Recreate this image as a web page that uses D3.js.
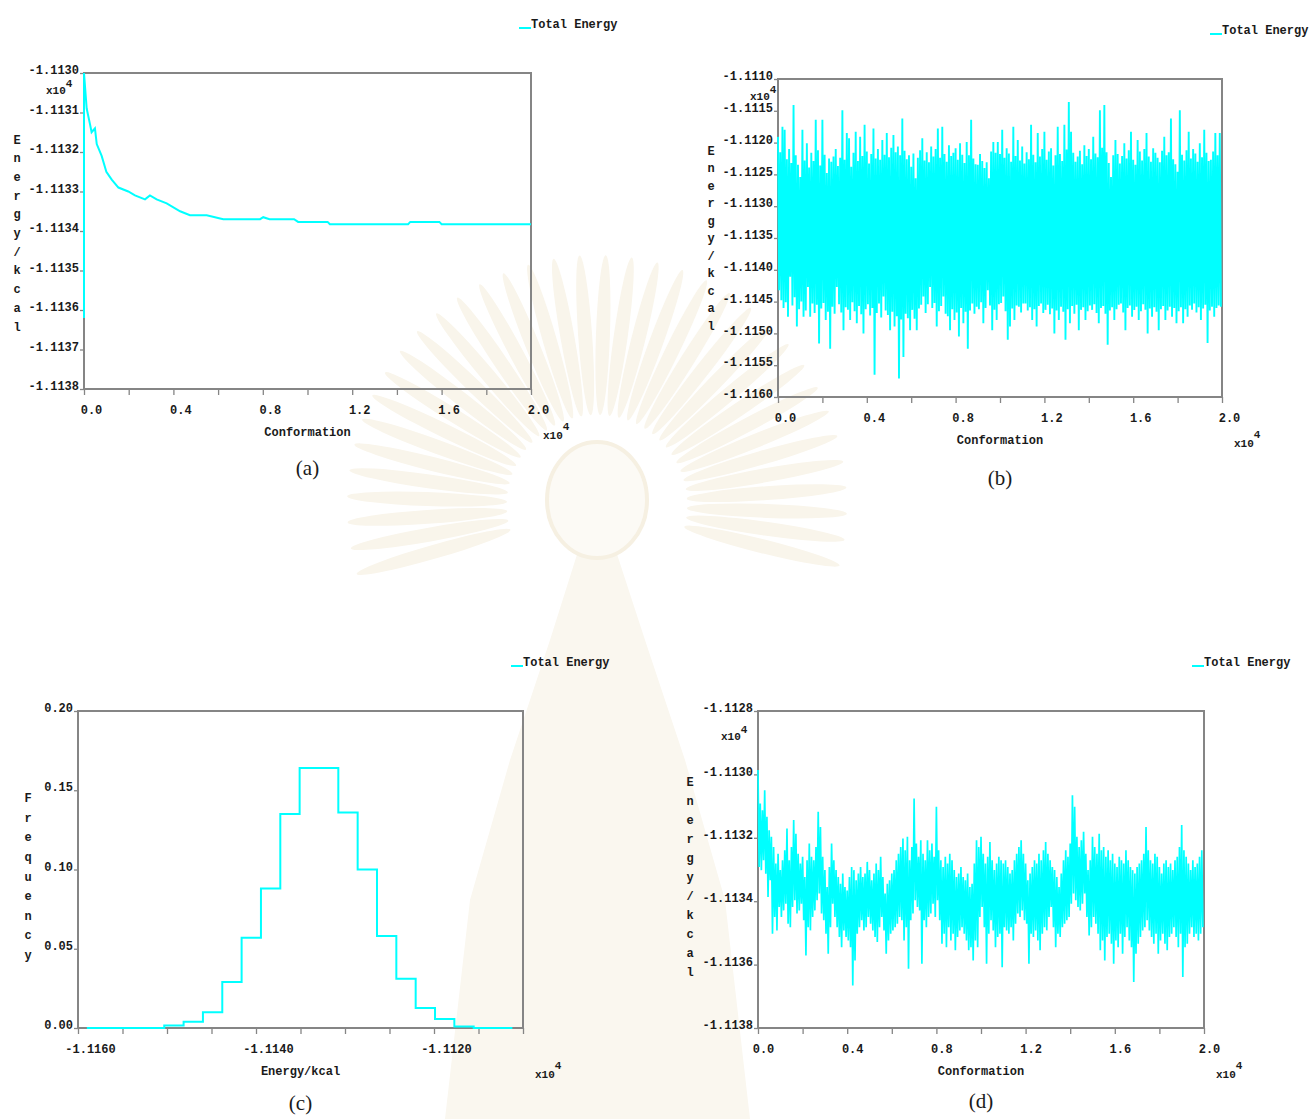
<!DOCTYPE html>
<html>
<head>
<meta charset="utf-8">
<script src="https://cdn.jsdelivr.net/npm/d3@7"></script>
<style>
  body { margin: 0; background: #fff; }
  text { font-family: "Liberation Mono", "DejaVu Sans Mono", monospace; font-weight: bold; font-size: 12px; fill: #1a1a1a; }
  text.cap { font-family: "Liberation Serif", "DejaVu Serif", serif; font-weight: normal; font-size: 21px; }
  text.mult { font-size: 11px; }
  text.sup { font-size: 8px; }
</style>
</head>
<body>
<svg id="fig" width="1313" height="1119"></svg>
<script>
// ---- data (energies in kcal, conformations as counts) ----

// (a) running average of total energy
const runConf = [0, 0, 120, 270, 340, 490, 570, 790, 1000, 1240, 1540, 1980, 2280, 2730, 2950, 3250,
  3700, 4300, 4740, 5490, 6230, 7880, 8020, 8300, 9400, 9580, 10900, 11000, 14500, 14600, 15900, 16000, 20000];
const runEnergy = [-11136.2, -11130.0, -11130.9, -11131.3, -11131.5, -11131.4, -11131.8, -11132.1, -11132.5,
  -11132.7, -11132.9, -11133.0, -11133.1, -11133.2, -11133.1, -11133.2, -11133.3, -11133.5, -11133.6, -11133.6,
  -11133.7, -11133.7, -11133.65, -11133.7, -11133.7, -11133.77, -11133.77, -11133.83, -11133.83, -11133.77,
  -11133.77, -11133.83, -11133.83];

// (b) and (d): highest and lowest energy in each block of 100 conformations
const blockSize = 100;

const bHigh = [
  -11119.1,-11121.5,-11117.5,-11118.0,-11122.6,-11121.0,-11123.2,-11114.1,-11122.0,-11123.5,
  -11125.4,-11118.0,-11122.8,-11120.1,-11123.9,-11121.6,-11122.9,-11116.4,-11121.2,-11123.6,
  -11116.4,-11121.9,-11124.8,-11122.5,-11123.0,-11122.2,-11121.0,-11123.7,-11122.4,-11114.9,
  -11122.7,-11118.5,-11119.3,-11123.8,-11121.6,-11118.3,-11122.9,-11119.1,-11122.1,-11117.2,
  -11121.4,-11123.3,-11121.8,-11117.8,-11122.5,-11121.0,-11122.7,-11119.6,-11121.9,-11118.5,
  -11122.3,-11120.8,-11118.8,-11121.5,-11120.6,-11122.0,-11116.2,-11121.3,-11122.6,-11122.0,
  -11123.8,-11121.7,-11125.6,-11122.4,-11121.2,-11119.3,-11122.8,-11121.5,-11123.1,-11120.6,
  -11122.2,-11121.0,-11117.8,-11122.4,-11117.5,-11121.8,-11123.0,-11120.4,-11122.1,-11121.6,
  -11120.9,-11122.7,-11120.1,-11121.9,-11123.2,-11119.9,-11122.0,-11116.4,-11122.5,-11123.4,
  -11123.5,-11121.8,-11122.9,-11124.0,-11123.1,-11125.6,-11121.4,-11119.9,-11121.6,-11119.9,
  -11121.8,-11118.0,-11122.4,-11120.9,-11121.7,-11123.0,-11117.5,-11122.1,-11119.6,-11122.8,
  -11120.6,-11123.3,-11121.5,-11122.6,-11117.2,-11121.9,-11123.1,-11118.5,-11122.2,-11121.0,
  -11118.3,-11122.7,-11121.4,-11120.9,-11123.6,-11122.0,-11117.5,-11121.8,-11122.9,-11117.2,
  -11121.1,-11113.6,-11118.3,-11121.6,-11123.0,-11122.2,-11121.3,-11123.4,-11120.4,-11122.1,
  -11121.0,-11122.6,-11119.1,-11121.7,-11122.3,-11114.9,-11120.8,-11114.1,-11121.5,-11123.2,
  -11125.4,-11122.0,-11119.6,-11121.8,-11123.3,-11122.1,-11120.1,-11122.5,-11121.2,-11118.3,
  -11122.7,-11123.5,-11119.6,-11121.4,-11122.8,-11121.0,-11118.5,-11122.2,-11123.0,-11120.9,
  -11121.6,-11122.4,-11123.1,-11121.3,-11119.1,-11122.0,-11121.5,-11116.2,-11122.6,-11123.4,
  -11124.6,-11114.9,-11121.9,-11122.8,-11121.2,-11118.3,-11122.5,-11121.0,-11121.7,-11123.0,
  -11120.1,-11122.3,-11118.0,-11121.6,-11122.9,-11122.7,-11121.4,-11118.5,-11122.0,-11118.5
];
const bLow = [
  -11143.2,-11144.8,-11146.0,-11145.1,-11147.4,-11141.1,-11145.6,-11144.3,-11148.9,-11146.2,
  -11145.0,-11147.4,-11146.4,-11142.7,-11147.4,-11145.3,-11146.8,-11145.5,-11151.6,-11146.1,
  -11145.2,-11147.9,-11146.6,-11152.4,-11145.8,-11146.9,-11142.7,-11145.4,-11146.7,-11149.5,
  -11145.9,-11146.3,-11147.9,-11145.1,-11146.5,-11148.4,-11145.7,-11147.0,-11150.0,-11146.2,
  -11145.4,-11147.2,-11146.0,-11156.5,-11146.8,-11145.3,-11147.5,-11144.2,-11146.4,-11147.1,
  -11149.5,-11146.6,-11148.9,-11147.3,-11157.1,-11147.8,-11153.7,-11146.9,-11147.6,-11149.5,
  -11146.3,-11147.7,-11149.5,-11146.1,-11145.5,-11144.2,-11146.8,-11145.4,-11142.7,-11146.0,
  -11145.2,-11148.9,-11146.5,-11145.7,-11144.2,-11146.9,-11147.3,-11149.5,-11146.2,-11147.9,
  -11146.7,-11150.5,-11146.0,-11148.4,-11146.6,-11152.4,-11146.4,-11145.3,-11146.9,-11145.8,
  -11146.2,-11145.1,-11148.4,-11146.0,-11143.2,-11145.6,-11149.5,-11146.3,-11147.9,-11145.4,
  -11145.2,-11144.2,-11146.5,-11151.0,-11148.9,-11146.1,-11147.9,-11145.6,-11145.8,-11146.7,
  -11145.3,-11145.3,-11146.4,-11145.9,-11147.9,-11146.2,-11148.9,-11145.7,-11145.3,-11146.8,
  -11146.3,-11145.5,-11147.0,-11146.1,-11150.0,-11146.4,-11147.9,-11145.8,-11146.6,-11151.0,
  -11146.2,-11148.4,-11145.7,-11146.9,-11145.5,-11149.5,-11146.3,-11145.9,-11147.9,-11146.5,
  -11145.6,-11146.3,-11145.4,-11146.8,-11148.4,-11146.0,-11145.7,-11146.9,-11151.8,-11146.4,
  -11145.9,-11147.9,-11146.2,-11145.5,-11145.3,-11146.7,-11149.5,-11146.0,-11145.6,-11147.4,
  -11146.3,-11145.8,-11147.9,-11146.5,-11145.4,-11146.3,-11150.0,-11146.1,-11147.4,-11145.9,
  -11146.6,-11149.5,-11146.2,-11145.7,-11147.9,-11146.4,-11145.8,-11147.4,-11146.0,-11148.4,
  -11146.5,-11145.9,-11148.4,-11146.2,-11147.4,-11145.6,-11146.3,-11145.3,-11146.7,-11145.9,
  -11147.9,-11146.1,-11145.5,-11151.5,-11146.4,-11145.8,-11147.4,-11146.0,-11145.6,-11145.8
];

const dHigh = [
  -11129.86,-11130.92,-11131.13,-11130.50,-11131.34,-11131.76,-11131.97,-11132.29,-11132.81,-11132.50,
  -11133.02,-11132.71,-11132.39,-11131.71,-11132.71,-11132.29,-11131.44,-11131.87,-11132.50,-11132.81,
  -11132.60,-11133.24,-11132.71,-11132.18,-11132.60,-11132.71,-11132.29,-11131.18,-11131.66,-11132.60,
  -11133.02,-11133.55,-11132.92,-11132.18,-11132.71,-11133.02,-11133.24,-11133.45,-11133.13,-11133.55,
  -11133.66,-11133.24,-11132.92,-11133.02,-11133.34,-11133.13,-11132.92,-11133.24,-11133.13,-11132.76,
  -11133.02,-11133.34,-11133.13,-11132.81,-11133.02,-11132.60,-11133.24,-11133.76,-11133.45,-11133.34,
  -11133.13,-11133.02,-11132.71,-11132.50,-11132.29,-11132.02,-11132.39,-11131.97,-11132.71,-11132.29,
  -11130.76,-11132.18,-11132.60,-11132.08,-11132.50,-11132.71,-11132.08,-11132.39,-11132.18,-11132.60,
  -11131.02,-11132.39,-11132.71,-11132.92,-11132.60,-11132.81,-11132.50,-11132.71,-11133.02,-11133.24,
  -11133.13,-11132.92,-11133.24,-11133.34,-11133.13,-11133.55,-11133.45,-11132.81,-11132.08,-11132.29,
  -11131.97,-11132.50,-11132.81,-11132.60,-11132.13,-11132.71,-11133.02,-11132.81,-11132.60,-11132.71,
  -11132.81,-11132.71,-11132.92,-11133.13,-11133.02,-11132.71,-11132.50,-11132.29,-11132.08,-11132.50,
  -11132.81,-11133.34,-11133.13,-11132.92,-11132.71,-11132.81,-11132.50,-11132.71,-11132.39,-11132.13,
  -11132.50,-11132.71,-11132.92,-11133.02,-11133.24,-11133.55,-11133.13,-11132.71,-11132.39,-11132.60,
  -11132.18,-11130.66,-11131.02,-11131.97,-11132.29,-11132.08,-11131.81,-11132.50,-11133.02,-11132.71,
  -11131.97,-11132.29,-11132.50,-11131.87,-11132.39,-11132.29,-11132.60,-11132.39,-11132.71,-11132.50,
  -11132.81,-11132.92,-11132.60,-11132.71,-11132.81,-11132.39,-11132.71,-11132.92,-11133.02,-11133.13,
  -11132.92,-11132.81,-11132.71,-11132.50,-11131.66,-11132.39,-11132.71,-11132.81,-11132.50,-11132.60,
  -11132.92,-11133.13,-11132.81,-11132.71,-11132.92,-11132.81,-11133.02,-11132.71,-11132.60,-11132.29,
  -11131.60,-11132.39,-11132.60,-11132.81,-11133.02,-11132.71,-11132.92,-11132.81,-11132.60,-11132.39
];
const dLow = [
  -11132.92,-11133.02,-11132.71,-11133.13,-11133.87,-11133.34,-11135.03,-11134.50,-11134.92,-11134.18,
  -11134.50,-11134.29,-11134.08,-11134.71,-11134.82,-11134.18,-11133.97,-11134.39,-11134.29,-11134.08,
  -11134.60,-11135.71,-11134.82,-11134.92,-11134.50,-11134.29,-11133.97,-11133.76,-11134.39,-11134.60,
  -11135.03,-11135.66,-11134.82,-11134.08,-11134.50,-11134.82,-11135.13,-11135.45,-11134.92,-11135.13,
  -11135.24,-11135.45,-11136.66,-11135.87,-11135.03,-11134.82,-11134.60,-11134.92,-11134.82,-11134.50,
  -11134.71,-11134.92,-11135.13,-11135.29,-11134.82,-11134.50,-11134.92,-11135.66,-11135.24,-11135.03,
  -11134.92,-11134.82,-11134.71,-11134.50,-11134.60,-11135.24,-11134.82,-11136.13,-11134.60,-11134.39,
  -11133.97,-11134.18,-11134.29,-11135.97,-11134.60,-11134.82,-11134.50,-11134.39,-11134.08,-11134.50,
  -11133.97,-11134.60,-11135.34,-11135.03,-11135.45,-11134.82,-11135.24,-11135.03,-11135.55,-11135.13,
  -11134.92,-11134.82,-11135.03,-11135.24,-11135.55,-11135.45,-11135.87,-11135.24,-11135.45,-11134.50,
  -11134.18,-11134.82,-11135.97,-11135.03,-11134.60,-11134.92,-11135.45,-11135.13,-11135.03,-11136.08,
  -11134.82,-11134.92,-11135.03,-11134.82,-11135.24,-11134.71,-11134.39,-11134.50,-11134.29,-11134.60,
  -11134.71,-11135.97,-11135.03,-11135.13,-11134.92,-11135.24,-11135.55,-11135.03,-11134.82,-11134.92,
  -11134.50,-11134.18,-11134.82,-11135.45,-11135.03,-11135.13,-11134.82,-11134.71,-11134.60,-11134.50,
  -11134.08,-11133.76,-11133.97,-11134.18,-11134.29,-11134.08,-11133.76,-11134.50,-11135.08,-11134.82,
  -11134.50,-11134.71,-11135.03,-11135.55,-11135.24,-11135.87,-11135.13,-11135.03,-11135.34,-11135.97,
  -11135.24,-11135.45,-11135.03,-11135.66,-11135.13,-11134.82,-11135.24,-11135.45,-11136.55,-11135.66,
  -11135.34,-11135.13,-11134.92,-11134.82,-11134.60,-11134.92,-11135.13,-11135.34,-11135.03,-11135.66,
  -11135.24,-11135.03,-11135.34,-11135.55,-11135.13,-11135.03,-11134.82,-11135.13,-11135.45,-11135.03,
  -11136.39,-11135.45,-11135.34,-11135.03,-11134.82,-11135.13,-11135.03,-11135.24,-11135.03,-11134.82
];

// (c) energy histogram
const histStart = -11159.0;
const histBinWidth = 2.173;
const histFreq = [0, 0, 0, 0, 0.0015, 0.004, 0.010, 0.029, 0.057, 0.088, 0.135,
  0.164, 0.164, 0.136, 0.100, 0.058, 0.031, 0.0126, 0.0057, 0.001, 0, 0];

// axis ticks
const confTicks = d3.range(0, 20001, 2000);
const confLabelled = [0, 4000, 8000, 12000, 16000, 20000];
const energyTicksA = d3.range(-11138, -11129, 1);
const energyTicksB = d3.range(-11160, -11109, 5);
const energyTicksD = d3.range(-11138, -11127, 2);
const histTicksX = d3.range(-11160, -11109, 5);
const histLabelled = [-11160, -11140, -11120];
const freqTicks = [0, 0.05, 0.10, 0.15, 0.20];

const seriesName = "Total Energy";
const lineColor = "#00ffff";
const frameColor = "#858585";

const svg = d3.select("#fig");

// faint seal in the background of the page
const wm = svg.append("g").attr("fill", "#f9f5eb");
d3.range(-196, 20, 6).forEach(a => {
  wm.append("ellipse")
    .attr("cx", 170).attr("cy", 0).attr("rx", 80).attr("ry", 7)
    .attr("transform", `translate(597,505) rotate(${a})`);
});
wm.append("path")
  .attr("d", "M580,545 L614,545 L645,640 L685,760 L725,900 L750,1119 L445,1119 L470,900 L510,760 L550,640 Z")
  .attr("fill", "#faf7ef");
wm.append("ellipse").attr("cx", 597).attr("cy", 500).attr("rx", 50).attr("ry", 58)
  .attr("fill", "#fcfaf5").attr("stroke", "#f6f0e2").attr("stroke-width", 4);

const fmt4 = d => (d / 1e4).toFixed(4);
const fmtConf = d => (d / 1e4).toFixed(1);

function panel(o) {
  const g = svg.append("g");
  const x = d3.scaleLinear().domain(o.xDomain).range([o.left, o.right]);
  const y = d3.scaleLinear().domain(o.yDomain).range([o.bottom, o.top]);

  const xa = g.append("g")
    .attr("transform", `translate(0,${o.bottom})`)
    .call(d3.axisBottom(x)
      .tickValues(o.xTicks)
      .tickFormat(d => o.xLabelled.includes(d) ? o.xFmt(d) : "")
      .tickSize(6).tickSizeOuter(0).tickPadding(10));
  xa.select(".domain").remove();
  xa.selectAll("line").attr("stroke", frameColor).attr("stroke-width", 1.3);
  xa.selectAll("text").attr("dx", o.xDx);

  const ya = g.append("g")
    .attr("transform", `translate(${o.left},0)`)
    .call(d3.axisLeft(y)
      .tickValues(o.yTicks)
      .tickFormat(o.yFmt)
      .tickSize(4).tickSizeOuter(0).tickPadding(1));
  ya.select(".domain").remove();
  ya.selectAll("line").attr("stroke", frameColor).attr("stroke-width", 1.3);
  ya.selectAll("text").attr("dy", "0.05em");

  g.append("rect")
    .attr("x", o.left).attr("y", o.top)
    .attr("width", o.right - o.left).attr("height", o.bottom - o.top)
    .attr("fill", "none").attr("stroke", frameColor).attr("stroke-width", 2);

  // stacked y title
  const chars = Array.from(o.yTitle);
  const yc = (o.top + o.bottom) / 2 + o.yTitleShift;
  g.selectAll(null).data(chars).join("text")
    .attr("x", o.left - o.yTitleGap)
    .attr("y", (d, i) => yc + (i - (chars.length - 1) / 2) * o.yTitleStep + 4)
    .attr("text-anchor", "middle")
    .text(d => d);

  // x title and multipliers
  g.append("text")
    .attr("x", (o.left + o.right) / 2).attr("y", o.bottom + 47)
    .attr("text-anchor", "middle")
    .text(o.xTitle);

  const xm = g.append("text").attr("class", "mult")
    .attr("x", o.right + 12).attr("y", o.bottom + 50);
  xm.append("tspan").text("x10");
  xm.append("tspan").attr("class", "sup").attr("dy", -9).text("4");

  if (o.yMult) {
    const ym = g.append("text").attr("class", "mult")
      .attr("x", o.yMult[0]).attr("y", o.yMult[1]);
    ym.append("tspan").text("x10");
    ym.append("tspan").attr("class", "sup").attr("dy", -7).text("4");
  }

  // legend
  g.append("line")
    .attr("x1", o.right - 12).attr("x2", o.right)
    .attr("y1", o.top - 45).attr("y2", o.top - 45)
    .attr("stroke", lineColor).attr("stroke-width", 2);
  g.append("text")
    .attr("x", o.right).attr("y", o.top - 45)
    .text(seriesName);

  // caption
  g.append("text").attr("class", "cap")
    .attr("x", (o.left + o.right) / 2).attr("y", o.bottom + o.capGap)
    .attr("text-anchor", "middle")
    .text(o.caption);

  return { g, x, y };
}

// (a)
{
  const p = panel({
    left: 84, right: 531, top: 73, bottom: 389,
    xDomain: [0, 20000], yDomain: [-11138, -11130],
    xTicks: confTicks, xLabelled: confLabelled, xFmt: fmtConf, xDx: 7,
    yTicks: energyTicksA, yFmt: fmt4,
    yTitle: "Energy/kcal", yTitleGap: 67, yTitleStep: 18.7, yTitleShift: 2,
    xTitle: "Conformation", yMult: [46, 94], caption: "(a)", capGap: 86
  });
  const pts = runConf.map((c, i) => [c, runEnergy[i]]);
  p.g.append("path")
    .datum(pts)
    .attr("fill", "none").attr("stroke", lineColor).attr("stroke-width", 2)
    .attr("d", d3.line().x(d => p.x(d[0])).y(d => p.y(d[1])));
}

function blockTrace(hi, lo) {
  const pts = [];
  hi.forEach((h, k) => {
    pts.push([k * blockSize, h]);
    pts.push([k * blockSize + blockSize / 2, lo[k]]);
  });
  return pts;
}

// (b)
{
  const p = panel({
    left: 778, right: 1222, top: 79, bottom: 397,
    xDomain: [0, 20000], yDomain: [-11160, -11110],
    xTicks: confTicks, xLabelled: confLabelled, xFmt: fmtConf, xDx: 7,
    yTicks: energyTicksB, yFmt: fmt4,
    yTitle: "Energy/kcal", yTitleGap: 67, yTitleStep: 17.5, yTitleShift: 0,
    xTitle: "Conformation", yMult: [750, 100], caption: "(b)", capGap: 88
  });
  p.g.append("path")
    .datum(blockTrace(bHigh, bLow))
    .attr("fill", "none").attr("stroke", lineColor).attr("stroke-width", 1.9)
    .attr("stroke-linejoin", "bevel")
    .attr("d", d3.line().x(d => p.x(d[0])).y(d => p.y(d[1])));
}

// (c)
{
  const p = panel({
    left: 78, right: 523, top: 711, bottom: 1028,
    xDomain: [-11160, -11110], yDomain: [0, 0.2],
    xTicks: histTicksX, xLabelled: histLabelled, xFmt: fmt4, xDx: 12,
    yTicks: freqTicks, yFmt: d => d.toFixed(2),
    yTitle: "Frequency", yTitleGap: 50, yTitleStep: 19.6, yTitleShift: 7,
    xTitle: "Energy/kcal", yMult: null, caption: "(c)", capGap: 82
  });
  const pts = histFreq.map((f, i) => [histStart + i * histBinWidth, f]);
  pts.push([histStart + histFreq.length * histBinWidth, histFreq[histFreq.length - 1]]);
  p.g.append("path")
    .datum(pts)
    .attr("fill", "none").attr("stroke", lineColor).attr("stroke-width", 2)
    .attr("d", d3.line().curve(d3.curveStepAfter).x(d => p.x(d[0])).y(d => p.y(d[1])));
}

// (d)
{
  const p = panel({
    left: 758, right: 1204, top: 711, bottom: 1028,
    xDomain: [0, 20000], yDomain: [-11138, -11128],
    xTicks: confTicks, xLabelled: confLabelled, xFmt: fmtConf, xDx: 5,
    yTicks: energyTicksD, yFmt: fmt4,
    yTitle: "Energy/kcal", yTitleGap: 68, yTitleStep: 19, yTitleShift: 7,
    xTitle: "Conformation", yMult: [721, 740], caption: "(d)", capGap: 80
  });
  p.g.append("path")
    .datum(blockTrace(dHigh, dLow))
    .attr("fill", "none").attr("stroke", lineColor).attr("stroke-width", 1.7)
    .attr("stroke-linejoin", "bevel")
    .attr("d", d3.line().x(d => p.x(d[0])).y(d => p.y(d[1])));
}
</script>
</body>
</html>
